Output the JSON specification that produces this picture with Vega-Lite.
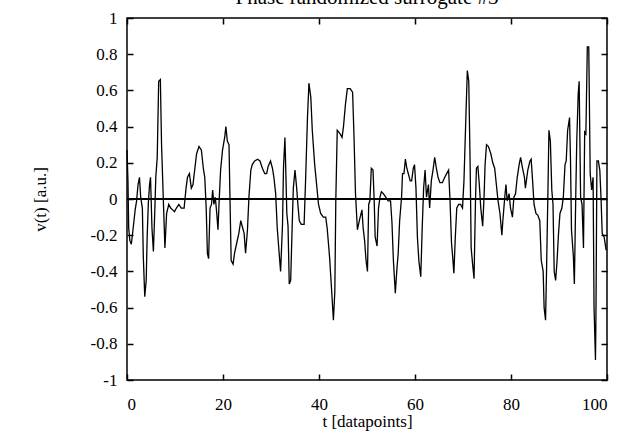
{
  "$schema": "https://vega.github.io/schema/vega-lite/v6.json",
  "width": 480,
  "height": 362,
  "autosize": {"type": "none"},
  "padding": {"left": 127, "top": 18, "right": 20, "bottom": 58},
  "background": "white",
  "title": {"text": "Phase randomized surrogate #3", "font": "Liberation Serif", "fontSize": 21, "fontWeight": "normal", "color": "black", "anchor": "middle", "baseline": "alphabetic", "frame": "group", "offset": 0, "dy": 16},
  "config": {
    "view": {"stroke": "black", "strokeWidth": 1.5},
    "axis": {"domain": false, "grid": false, "ticks": true, "tickColor": "black", "tickWidth": 1.5, "tickSize": 6, "offset": -6, "zindex": 2, "labelFont": "Liberation Serif", "labelFontSize": 17, "labelColor": "black", "titleFont": "Liberation Serif", "titleFontSize": 17, "titleFontWeight": "normal", "titleColor": "black"}
  },
  "resolve": {"axis": {"x": "independent", "y": "independent"}},
  "data": {"values": [
    {"t":0,"v":0.27},{"t":0.2,"v":0.1},{"t":0.35,"v":-0.16},{"t":0.6,"v":-0.23},{"t":0.9,"v":-0.25},{"t":1.25,"v":-0.17},{"t":1.7,"v":-0.06},{"t":2.0,"v":-0.01},{"t":2.3,"v":0.08},{"t":2.6,"v":0.12},{"t":2.85,"v":0.01},{"t":3.2,"v":-0.05},{"t":3.4,"v":-0.32},{"t":3.7,"v":-0.54},{"t":4.0,"v":-0.45},{"t":4.2,"v":-0.21},{"t":4.45,"v":-0.02},{"t":4.7,"v":0.08},{"t":4.9,"v":0.12},{"t":5.2,"v":-0.16},{"t":5.5,"v":-0.29},{"t":5.75,"v":-0.1},{"t":6.0,"v":0.12},{"t":6.3,"v":0.23},{"t":6.6,"v":0.65},{"t":6.95,"v":0.66},{"t":7.2,"v":0.3},{"t":7.6,"v":-0.03},{"t":7.9,"v":-0.27},{"t":8.25,"v":-0.08},{"t":8.7,"v":-0.03},{"t":9.1,"v":-0.05},{"t":9.5,"v":-0.06},{"t":9.9,"v":-0.07},{"t":10.3,"v":-0.05},{"t":10.8,"v":-0.03},{"t":11.3,"v":-0.05},{"t":11.9,"v":-0.05},{"t":12.3,"v":0.06},{"t":12.6,"v":0.12},{"t":13.0,"v":0.14},{"t":13.4,"v":0.06},{"t":13.75,"v":0.08},{"t":14.1,"v":0.16},{"t":14.5,"v":0.25},{"t":15.0,"v":0.29},{"t":15.5,"v":0.27},{"t":15.9,"v":0.17},{"t":16.2,"v":0.12},{"t":16.5,"v":-0.05},{"t":16.75,"v":-0.3},{"t":17.0,"v":-0.33},{"t":17.3,"v":-0.05},{"t":17.6,"v":-0.03},{"t":17.85,"v":0.05},{"t":18.1,"v":-0.03},{"t":18.4,"v":0.01},{"t":18.7,"v":-0.08},{"t":18.95,"v":-0.17},{"t":19.2,"v":-0.01},{"t":19.5,"v":0.16},{"t":19.9,"v":0.27},{"t":20.35,"v":0.34},{"t":20.6,"v":0.4},{"t":20.9,"v":0.32},{"t":21.25,"v":0.3},{"t":21.45,"v":0.01},{"t":21.7,"v":-0.34},{"t":22.1,"v":-0.36},{"t":22.4,"v":-0.3},{"t":22.8,"v":-0.25},{"t":23.3,"v":-0.19},{"t":23.7,"v":-0.12},{"t":24.1,"v":-0.16},{"t":24.4,"v":-0.19},{"t":24.7,"v":-0.3},{"t":25.1,"v":-0.17},{"t":25.4,"v":0.01},{"t":25.8,"v":0.16},{"t":26.1,"v":0.19},{"t":26.6,"v":0.21},{"t":27.2,"v":0.22},{"t":27.7,"v":0.21},{"t":28.2,"v":0.17},{"t":28.7,"v":0.14},{"t":29.1,"v":0.14},{"t":29.4,"v":0.18},{"t":29.9,"v":0.21},{"t":30.3,"v":0.17},{"t":30.6,"v":0.12},{"t":30.97,"v":0.03},{"t":31.3,"v":-0.16},{"t":31.7,"v":-0.3},{"t":32.0,"v":-0.4},{"t":32.4,"v":-0.14},{"t":32.6,"v":0.17},{"t":32.9,"v":0.34},{"t":33.05,"v":0.19},{"t":33.3,"v":-0.08},{"t":33.55,"v":-0.15},{"t":33.8,"v":-0.47},{"t":34.1,"v":-0.45},{"t":34.4,"v":-0.16},{"t":34.65,"v":0.06},{"t":35.0,"v":0.16},{"t":35.35,"v":0.06},{"t":35.6,"v":-0.03},{"t":35.9,"v":-0.12},{"t":36.3,"v":-0.14},{"t":36.9,"v":-0.14},{"t":37.2,"v":0.1},{"t":37.6,"v":0.45},{"t":37.9,"v":0.64},{"t":38.3,"v":0.56},{"t":38.6,"v":0.38},{"t":39.1,"v":0.19},{"t":39.5,"v":0.08},{"t":39.9,"v":-0.03},{"t":40.35,"v":-0.08},{"t":40.9,"v":-0.1},{"t":41.4,"v":-0.1},{"t":41.7,"v":-0.16},{"t":42.2,"v":-0.32},{"t":42.6,"v":-0.49},{"t":43.0,"v":-0.67},{"t":43.3,"v":-0.51},{"t":43.5,"v":-0.01},{"t":43.8,"v":0.38},{"t":44.4,"v":0.36},{"t":44.8,"v":0.34},{"t":45.1,"v":0.4},{"t":45.5,"v":0.52},{"t":45.9,"v":0.61},{"t":46.5,"v":0.61},{"t":47.0,"v":0.59},{"t":47.3,"v":0.34},{"t":47.6,"v":0.03},{"t":48.0,"v":-0.17},{"t":48.4,"v":-0.12},{"t":48.95,"v":-0.06},{"t":49.2,"v":-0.16},{"t":49.5,"v":-0.23},{"t":49.8,"v":-0.34},{"t":50.1,"v":-0.4},{"t":50.35,"v":-0.03},{"t":50.6,"v":-0.01},{"t":50.9,"v":0.17},{"t":51.25,"v":0.16},{"t":51.5,"v":-0.01},{"t":51.7,"v":-0.21},{"t":52.1,"v":-0.26},{"t":52.4,"v":-0.05},{"t":52.7,"v":0.01},{"t":53.0,"v":0.04},{"t":53.4,"v":0.03},{"t":53.9,"v":0.01},{"t":54.4,"v":-0.01},{"t":54.9,"v":-0.01},{"t":55.2,"v":-0.13},{"t":55.5,"v":-0.34},{"t":55.9,"v":-0.52},{"t":56.25,"v":-0.38},{"t":56.5,"v":-0.3},{"t":56.8,"v":-0.12},{"t":57.2,"v":0.01},{"t":57.4,"v":0.14},{"t":57.7,"v":0.14},{"t":58.0,"v":0.22},{"t":58.3,"v":0.17},{"t":58.6,"v":0.14},{"t":59.0,"v":0.1},{"t":59.3,"v":0.1},{"t":59.65,"v":0.17},{"t":59.9,"v":0.19},{"t":60.2,"v":0.06},{"t":60.5,"v":-0.21},{"t":60.8,"v":-0.34},{"t":61.2,"v":-0.43},{"t":61.5,"v":-0.16},{"t":61.8,"v":0.06},{"t":62.1,"v":0.16},{"t":62.4,"v":0.01},{"t":62.8,"v":0.08},{"t":63.05,"v":-0.05},{"t":63.4,"v":0.1},{"t":63.75,"v":0.16},{"t":64.1,"v":0.23},{"t":64.45,"v":0.17},{"t":64.8,"v":0.12},{"t":65.2,"v":0.09},{"t":65.7,"v":0.09},{"t":66.2,"v":0.12},{"t":66.6,"v":0.14},{"t":67.0,"v":0.16},{"t":67.3,"v":-0.01},{"t":67.6,"v":-0.24},{"t":67.85,"v":-0.32},{"t":68.1,"v":-0.41},{"t":68.4,"v":-0.21},{"t":68.7,"v":-0.05},{"t":69.1,"v":-0.03},{"t":69.5,"v":-0.03},{"t":69.9,"v":-0.05},{"t":70.2,"v":0.1},{"t":70.55,"v":0.41},{"t":70.9,"v":0.71},{"t":71.2,"v":0.65},{"t":71.5,"v":0.17},{"t":71.7,"v":-0.27},{"t":72.0,"v":-0.36},{"t":72.3,"v":-0.44},{"t":72.6,"v":-0.01},{"t":72.8,"v":0.17},{"t":73.1,"v":0.18},{"t":73.4,"v":0.08},{"t":73.7,"v":-0.05},{"t":74.1,"v":-0.15},{"t":74.4,"v":0.02},{"t":74.6,"v":0.19},{"t":74.9,"v":0.3},{"t":75.3,"v":0.29},{"t":75.8,"v":0.25},{"t":76.2,"v":0.2},{"t":76.6,"v":0.17},{"t":76.95,"v":0.08},{"t":77.3,"v":-0.01},{"t":77.7,"v":-0.08},{"t":78.1,"v":-0.2},{"t":78.3,"v":-0.12},{"t":78.7,"v":0.01},{"t":78.95,"v":0.08},{"t":79.2,"v":-0.01},{"t":79.6,"v":0.03},{"t":79.9,"v":-0.05},{"t":80.3,"v":-0.1},{"t":80.6,"v":0.01},{"t":80.95,"v":0.03},{"t":81.3,"v":0.12},{"t":81.7,"v":0.19},{"t":82.0,"v":0.23},{"t":82.4,"v":0.17},{"t":82.8,"v":0.12},{"t":83.0,"v":0.06},{"t":83.5,"v":0.16},{"t":83.95,"v":0.21},{"t":84.2,"v":0.22},{"t":84.5,"v":0.1},{"t":84.8,"v":-0.03},{"t":85.2,"v":-0.08},{"t":85.6,"v":-0.09},{"t":86.0,"v":-0.12},{"t":86.3,"v":-0.34},{"t":86.7,"v":-0.4},{"t":86.9,"v":-0.6},{"t":87.2,"v":-0.67},{"t":87.4,"v":-0.4},{"t":87.7,"v":0.05},{"t":87.9,"v":0.38},{"t":88.2,"v":0.32},{"t":88.5,"v":0.05},{"t":88.75,"v":-0.03},{"t":89.0,"v":-0.4},{"t":89.3,"v":-0.45},{"t":89.6,"v":-0.34},{"t":89.9,"v":-0.19},{"t":90.2,"v":-0.08},{"t":90.6,"v":-0.05},{"t":90.9,"v":0.01},{"t":91.25,"v":0.19},{"t":91.5,"v":0.21},{"t":91.8,"v":0.38},{"t":92.2,"v":0.45},{"t":92.4,"v":0.21},{"t":92.6,"v":-0.17},{"t":93.0,"v":-0.32},{"t":93.2,"v":-0.47},{"t":93.5,"v":0.03},{"t":93.7,"v":0.32},{"t":94.0,"v":0.58},{"t":94.2,"v":0.65},{"t":94.5,"v":0.01},{"t":94.8,"v":-0.03},{"t":95.1,"v":-0.27},{"t":95.35,"v":0.37},{"t":95.6,"v":0.36},{"t":95.9,"v":0.84},{"t":96.2,"v":0.84},{"t":96.5,"v":0.14},{"t":96.8,"v":0.05},{"t":97.1,"v":0.12},{"t":97.3,"v":-0.6},{"t":97.6,"v":-0.89},{"t":97.7,"v":-0.64},{"t":97.9,"v":0.21},{"t":98.2,"v":0.21},{"t":98.5,"v":0.16},{"t":98.75,"v":0.01},{"t":99.0,"v":-0.19},{"t":99.4,"v":-0.21},{"t":99.8,"v":-0.28},{"t":100,"v":-0.28}
  ]},
  "layer": [
    {
      "mark": {"type": "line", "color": "black", "strokeWidth": 1.3, "interpolate": "linear"},
      "encoding": {
        "x": {"field": "t", "type": "quantitative", "scale": {"domain": [0, 100], "nice": false}, "axis": {"orient": "bottom", "values": [0, 20, 40, 60, 80, 100], "labelExpr": "'' + datum.value", "labelPadding": 16, "title": "t [datapoints]", "titleX": 240, "titleY": 47, "titleBaseline": "middle", "titleAlign": "center"}},
        "y": {"field": "v", "type": "quantitative", "scale": {"domain": [-1, 1], "nice": false, "zero": false}, "axis": {"orient": "left", "values": [-1, -0.8, -0.6, -0.4, -0.2, 0, 0.2, 0.4, 0.6, 0.8, 1], "labelExpr": "'' + datum.value", "labelPadding": 10, "title": "v(t) [a.u.]", "titleAngle": -90, "titleX": -93, "titleY": 181, "titleBaseline": "middle", "titleAlign": "center"}}
      }
    },
    {
      "mark": {"type": "line", "opacity": 0},
      "encoding": {
        "x": {"field": "t", "type": "quantitative", "axis": {"orient": "top", "values": [0, 20, 40, 60, 80, 100], "labels": false, "title": null}},
        "y": {"field": "v", "type": "quantitative", "axis": {"orient": "right", "values": [-1, -0.8, -0.6, -0.4, -0.2, 0, 0.2, 0.4, 0.6, 0.8, 1], "labels": false, "title": null}}
      }
    },
    {
      "mark": {"type": "rule", "color": "black", "strokeWidth": 1.5},
      "encoding": {"y": {"datum": 0, "axis": null}}
    }
  ]
}
